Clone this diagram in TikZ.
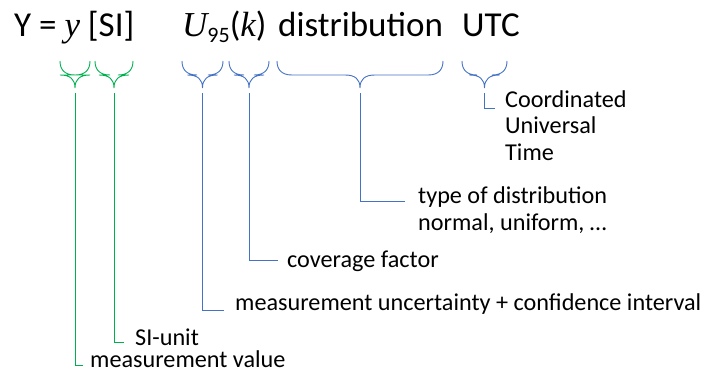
\documentclass[tikz,border=0pt]{standalone}
\usepackage{fontspec}
\setmainfont{Carlito}
\newfontfamily\varfont{Liberation Serif}
\usetikzlibrary{positioning}

\definecolor{markgreen}{RGB}{0,176,80}
\definecolor{markblue}{RGB}{68,114,196}

\newcommand\qv[1]{{\varfont\itshape #1}}
\newcommand\subnum[1]{\raisebox{-6pt}{\fontsize{22}{24}\selectfont #1}}

% curly brace opening downwards: style, left x, right x, name of tip
\newcommand\ubrace[4]{%
  \pgfmathsetmacro\bmid{(#2+#3)/2}%
  \pgfmathsetmacro\brad{min(15,(#3-#2)/2)}%
  \draw[#1] (#2,61) .. controls (#2,70) and ({#2+\brad/3},75) .. ({#2+\brad},75)
    -- ({\bmid-\brad},75) .. controls ({\bmid-\brad/3},75) and (\bmid,79) .. (\bmid,88) coordinate (#4)
    .. controls (\bmid,79) and ({\bmid+\brad/3},75) .. ({\bmid+\brad},75)
    -- ({#3-\brad},75) .. controls ({#3-\brad/3},75) and (#3,70) .. (#3,61);
}

\begin{document}
\begin{tikzpicture}[
  x=1pt, y=-1pt,
  title/.style={font=\fontsize{35}{40}\selectfont, inner sep=0pt, anchor=base west},
  lbl/.style={font=\fontsize{24.2}{27}\selectfont, inner sep=0pt, anchor=base west, align=left},
  gline/.style={markgreen, line width=0.9pt},
  bline/.style={markblue, line width=0.9pt},
  leader/.style={shorten <=5pt},
]
\useasboundingbox (0,0) rectangle (705,372);

% ══ Expression ══
\node[title] (quant) at (14,36) {Y = \qv{y} [SI]};
\node[title] (unc) at (182,36) {\qv{U}\subnum{95}(\qv{k})};
\node[title] (dist) at (278,36) {distribution};
\node[title] (utc) at (462,36) {UTC};

% ══ Braces ══
\ubrace{gline}{60}{90}{gval}
\ubrace{gline}{95}{133}{gunit}
\ubrace{bline}{182}{223}{bunc}
\ubrace{bline}{229}{269}{bcov}
\ubrace{bline}{277}{443}{bdist}
\ubrace{bline}{462}{507}{butc}

% ══ Labels ══
\node[lbl] (valL) at (90,367) {measurement value};
\node[lbl] (siL) at (135,345) {SI-unit};
\node[lbl] (uncL) at (235,310) {measurement uncertainty + confidence interval};
\node[lbl] (covL) at (287,267) {coverage factor};
\node[lbl] (distL) at (418,230) {type of distribution\\normal, uniform, …};
\node[lbl, font=\fontsize{24.2}{26.5}\selectfont] (utcL) at (505,160) {Coordinated\\Universal\\Time};

% ══ Leaders ══
\draw[gline, leader] (gval) |- ([shift={(-7,-2)}]valL.base west);
\draw[gline, leader] (gunit) |- ([shift={(-11,-3)}]siL.base west);
\draw[bline, leader] (bunc) |- ([shift={(-11,0)}]uncL.base west);
\draw[bline, leader] (bcov) |- ([shift={(-9,-7)}]covL.base west);
\draw[bline, leader] (bdist) |- ([shift={(-13,-29)}]distL.base west);
\draw[bline, leader] (butc) |- ([shift={(-10,-52)}]utcL.base west);

\end{tikzpicture}
\end{document}
